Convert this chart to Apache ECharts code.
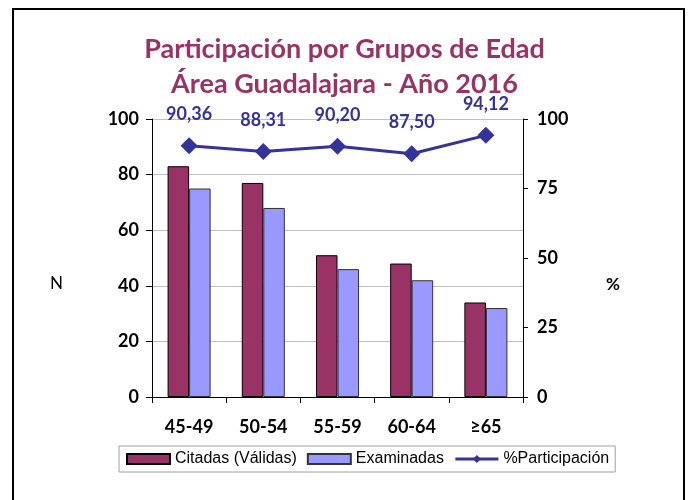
<!DOCTYPE html>
<html><head><meta charset="utf-8">
<script src="https://cdn.jsdelivr.net/npm/echarts@6/dist/echarts.min.js"></script>
<style>html,body{margin:0;padding:0;background:#fff}#c{width:689px;height:500px}</style>
</head><body><div id="c"></div>
<script>
const categories = ['45-49', '50-54', '55-59', '60-64', '≥65'];
const citadas = [83, 77, 51, 48, 34];
const examinadas = [75, 68, 46, 42, 32];
const participacion = [90.36, 88.31, 90.20, 87.50, 94.12];
const leftTicks = [0, 20, 40, 60, 80, 100];
const rightTicks = [0, 25, 50, 75, 100];

const chart = echarts.init(document.getElementById('c'));
const axisFont = {fontFamily: 'Lato', fontWeight: 'bold', fontSize: 18, color: '#000'};
chart.setOption({
  animation: false,
  title: {
    text: 'Participación por Grupos de Edad\nÁrea Guadalajara - Año 2016',
    left: 'center', top: 27,
    textStyle: {fontFamily: 'Lato', fontWeight: 'bold', fontSize: 27, color: '#993366', lineHeight: 35}
  },
  grid: {left: 152, right: 166, top: 119, bottom: 103},
  legend: {
    left: 119, top: 446,
    borderColor: '#a0a0a0', borderWidth: 1, padding: [5, 6, 5, 7],
    itemGap: 10, itemWidth: 43, itemHeight: 10,
    textStyle: {fontFamily: 'Liberation Sans', fontSize: 16, color: '#000'},
    data: [
      {name: 'Citadas (Válidas)', icon: 'rect'},
      {name: 'Examinadas', icon: 'rect'},
      {name: '%Participación', lineStyle: {width: 3}}
    ]
  },
  xAxis: {
    type: 'category', data: categories,
    axisLine: {lineStyle: {color: '#000', width: 1}},
    axisTick: {show: true, length: 6, lineStyle: {color: '#000'}},
    axisLabel: Object.assign({margin: 21}, axisFont)
  },
  yAxis: [
    {type: 'value', min: leftTicks[0], max: leftTicks[leftTicks.length - 1], interval: 20,
     axisLine: {show: true, lineStyle: {color: '#000'}},
     axisTick: {show: true, length: 6, lineStyle: {color: '#000'}},
     splitLine: {lineStyle: {color: '#c0c0c0', width: 1}},
     axisLabel: Object.assign({margin: 13}, axisFont)},
    {type: 'value', min: rightTicks[0], max: rightTicks[rightTicks.length - 1], interval: 25,
     position: 'right',
     axisLine: {show: true, lineStyle: {color: '#000'}},
     axisTick: {show: true, length: 5, lineStyle: {color: '#000'}},
     splitLine: {show: false},
     axisLabel: Object.assign({margin: 14}, axisFont)}
  ],
  series: [
    {name: 'Citadas (Válidas)', type: 'bar', data: citadas, barGap: '0%', barCategoryGap: '42%',
     itemStyle: {color: '#993366', borderColor: '#000', borderWidth: 1}},
    {name: 'Examinadas', type: 'bar', data: examinadas,
     itemStyle: {color: '#9999ff', borderColor: '#333', borderWidth: 1}},
    {name: '%Participación', type: 'line', yAxisIndex: 1, data: participacion,
     symbol: 'diamond', symbolSize: 17,
     lineStyle: {color: '#333399', width: 3},
     itemStyle: {color: '#333399'},
     label: {show: true, position: 'top', distance: 14,
       fontFamily: 'Lato', fontWeight: 'bold', fontSize: 18, color: '#333399',
       formatter: p => p.value.toFixed(2).replace('.', ',')}}
  ],
  graphic: [
    {type: 'rect', shape: {x: 13, y: 9, width: 671, height: 500}, style: {fill: 'none', stroke: '#000', lineWidth: 2}},
    {type: 'text', left: 50, top: 275, style: {text: 'N', font: '17px Lato', fill: '#000'}},
    {type: 'text', left: 606, top: 276, style: {text: '%', font: 'bold 17px Lato', fill: '#000'}}
  ]
});
</script></body></html>
